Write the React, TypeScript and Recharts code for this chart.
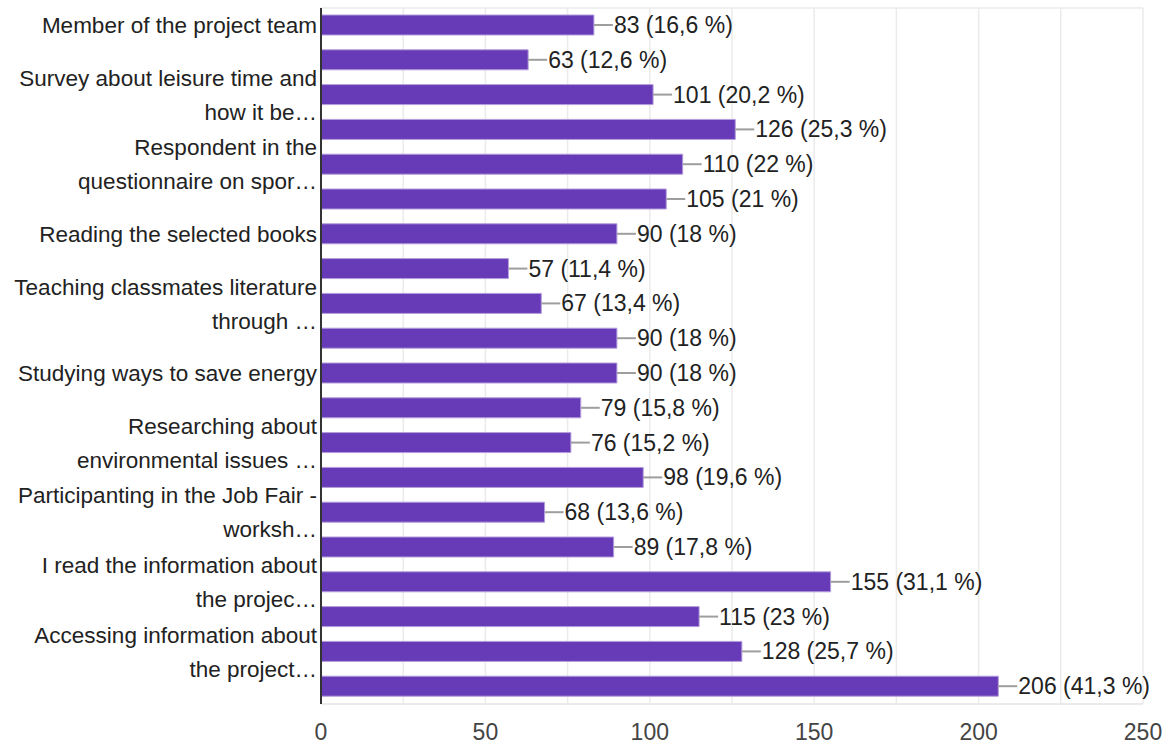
import { BarChart, Bar, XAxis, YAxis, CartesianGrid, LabelList } from 'recharts';

const categories = [
  'Member of the project team',
  '',
  'Survey about leisure time and\nhow it be…',
  '',
  'Respondent in the\nquestionnaire on spor…',
  '',
  'Reading the selected books',
  '',
  'Teaching classmates literature\nthrough …',
  '',
  'Studying ways to save energy',
  '',
  'Researching about\nenvironmental issues …',
  '',
  'Participanting in the Job Fair -\nworksh…',
  '',
  'I read the information about\nthe projec…',
  '',
  'Accessing information about\nthe project…',
  '',
];

const counts = [83, 63, 101, 126, 110, 105, 90, 57, 67, 90, 90, 79, 76, 98, 68, 89, 155, 115, 128, 206];

const percents = [
  '16,6', '12,6', '20,2', '25,3', '22', '21', '18', '11,4', '13,4', '18',
  '18', '15,8', '15,2', '19,6', '13,6', '17,8', '31,1', '23', '25,7', '41,3',
];

const xTicks = [0, 25, 50, 75, 100, 125, 150, 175, 200, 225, 250];

const rows = counts.map((v, i) => ({ key: `c${i}`, name: categories[i], count: v, pct: percents[i] }));

const FONT = '"Liberation Sans", Arial, sans-serif';

function CategoryTick(props: any) {
  const { x, y, payload } = props;
  const text: string = categories[payload.index] || '';
  if (!text) return null;
  const lines = text.split('\n');
  const gap = 34;
  const start = -((lines.length - 1) * gap) / 2;
  return (
    <g>
      {lines.map((ln, k) => (
        <text
          key={k}
          x={x + 4}
          y={y + start + k * gap}
          dy="0.35em"
          textAnchor="end"
          fill="#222"
          fontSize={22.5}
          fontFamily={FONT}
        >
          {ln}
        </text>
      ))}
    </g>
  );
}

function ValueLabel(props: any) {
  const { x, y, width, height, index } = props;
  const ex = x + width;
  const cy = y + height / 2;
  return (
    <g>
      <line x1={ex} y1={cy} x2={ex + 19} y2={cy} stroke="#9e9e9e" strokeWidth={2} />
      <text x={ex + 20} y={cy} dy="0.35em" fill="#222" fontSize={23} fontFamily={FONT}>
        {`${counts[index]} (${percents[index]} %)`}
      </text>
    </g>
  );
}

export default function App() {
  return (
    <div style={{ position: 'absolute', left: 0, top: 0, background: '#fff' }}>
      <BarChart
        width={1172}
        height={747}
        data={rows}
        layout="vertical"
        barSize={20}
        margin={{ top: 8, right: 29, bottom: 0, left: 0 }}
      >
        <CartesianGrid
          stroke="#ebebeb"
          strokeWidth={1.5}
          horizontalCoordinatesGenerator={({ offset }: any) => [offset.top, offset.top + offset.height]}
        />
        <XAxis
          type="number"
          domain={[0, 250]}
          ticks={xTicks}
          interval={0}
          height={43}
          tickFormatter={(v: number) => (v % 50 === 0 ? String(v) : '')}
          axisLine={{ stroke: '#e6e6e6' }}
          tickLine={false}
          tickMargin={14}
          tick={{ fill: '#444', fontSize: 23, fontFamily: FONT }}
        />
        <YAxis
          type="category"
          dataKey="key"
          width={321}
          interval={0}
          axisLine={{ stroke: '#333', strokeWidth: 2 }}
          tickLine={false}
          tick={<CategoryTick />}
        />
        <Bar dataKey="count" fill="#673ab7" stroke="#b39ddb" strokeWidth={1} isAnimationActive={false}>
          <LabelList dataKey="count" content={<ValueLabel />} />
        </Bar>
      </BarChart>
    </div>
  );
}
